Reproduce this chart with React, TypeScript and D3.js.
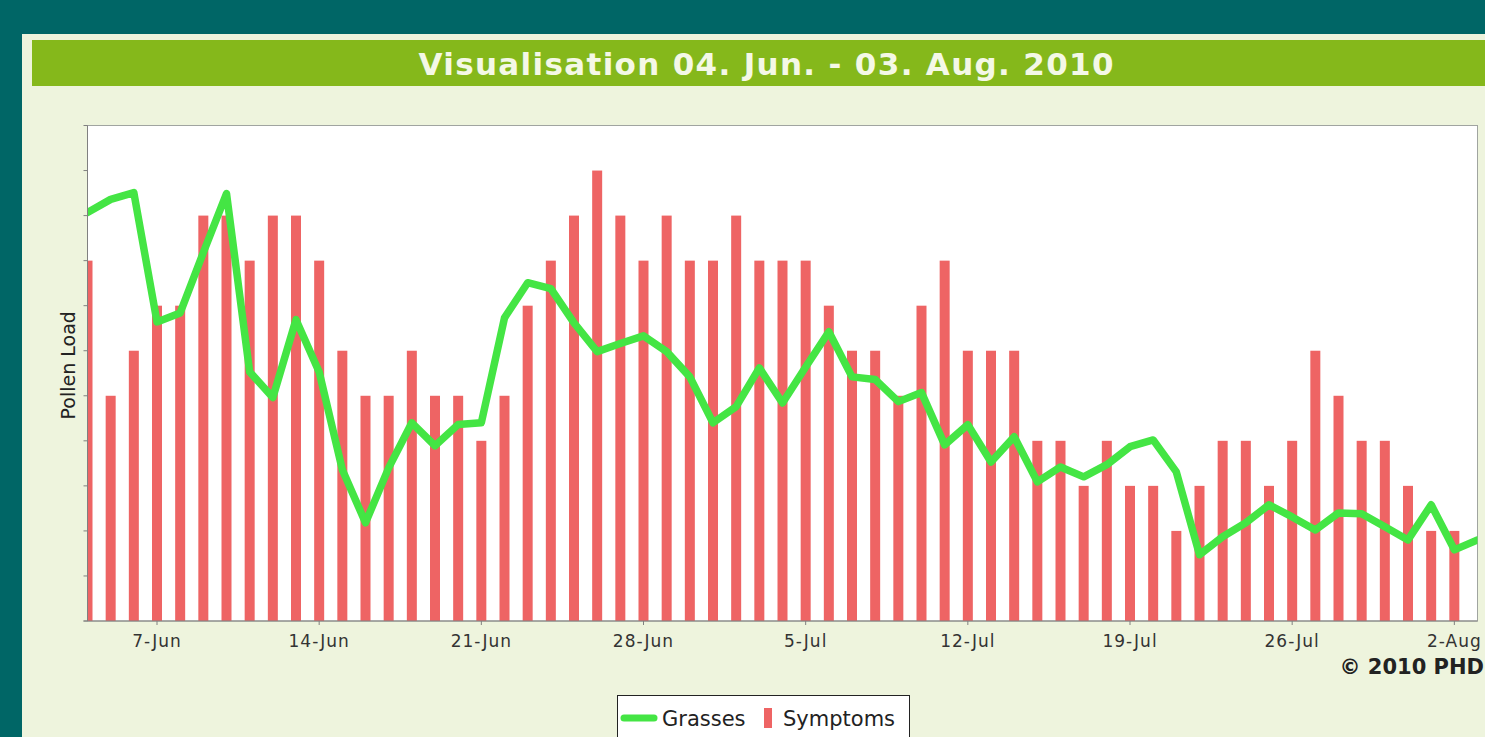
import React from "react";
import * as d3 from "d3";

const START = "2010-06-04";
const END = "2010-08-03";
const symptoms: (number | null)[] = [
  8, 5, 6, 7, 7, 9, 9, 8, 9, 9, 8, 6, 5, 5, 6, 5, 5, 4, 5, 7, 8, 9, 10, 9, 8, 9, 8, 8, 9, 8,
  8, 8, 7, 6, 6, 5, 7, 8, 6, 6, 6, 4, 4, 3, 4, 3, 3, 2, 3, 4, 4, 3, 4, 6, 5, 4, 4, 3, 2, 2, null,
];
const grasses: number[] = [
  9.07, 9.36, 9.51, 6.64, 6.84, 8.18, 9.49, 5.53, 4.96, 6.69, 5.53, 3.36, 2.18, 3.4, 4.4, 3.89,
  4.36, 4.4, 6.73, 7.51, 7.38, 6.62, 5.98, 6.16, 6.33, 5.98, 5.42, 4.4, 4.76, 5.62, 4.84, 5.64,
  6.42, 5.42, 5.36, 4.87, 5.07, 3.91, 4.36, 3.53, 4.09, 3.09, 3.42, 3.2, 3.47, 3.87, 4.02, 3.31,
  1.47, 1.87, 2.18, 2.58, 2.31, 2.02, 2.4, 2.38, 2.09, 1.8, 2.58, 1.58, 1.8,
];
const yTicks = [0, 1, 2, 3, 4, 5, 6, 7, 8, 9, 10, 11];
const titleText = "Visualisation 04. Jun. - 03. Aug. 2010";
const yLabel = "Pollen Load";
const copyright = "© 2010 PHD";
const seriesNames = ["Grasses", "Symptoms"];

const W = 1485;
const H = 737;
const plot = { left: 87.5, top: 125.5, right: 1477.5, bottom: 621 };

export default function App() {
  const parse = d3.timeParse("%Y-%m-%d");
  const start = parse(START) as Date;
  const end = parse(END) as Date;
  const dates = d3.timeDays(start, d3.timeDay.offset(end, 1));
  const x = d3.scaleTime().domain([start, end]).range([plot.left, plot.right]);
  const y = d3.scaleLinear().domain([0, 11]).range([plot.bottom, plot.top]);
  const xTicks = d3.timeDays(d3.timeDay.offset(start, 3), d3.timeDay.offset(end, 1), 7);
  const fmt = d3.timeFormat("%-d-%b");
  const line = d3
    .line<number>()
    .x((_, i) => x(dates[i]))
    .y((v) => y(v))
    .curve(d3.curveLinear);
  const barW = 10;
  const font = "'DejaVu Sans', Verdana, sans-serif";

  return (
    <svg
      width={W}
      height={H}
      style={{ position: "absolute", left: 0, top: 0, display: "block" }}
    >
      <defs>
        <clipPath id="plotClip">
          <rect x={plot.left} y={plot.top} width={plot.right - plot.left} height={plot.bottom - plot.top} />
        </clipPath>
      </defs>
      <rect x={0} y={0} width={W} height={H} fill="#006666" />
      <rect x={22} y={34} width={W} height={H} fill="#eef4dd" />
      <rect x={32} y={40} width={W} height={46} fill="#85b81b" />
      <text
        x={766}
        y={75}
        textAnchor="middle"
        fill="#f4f8e6"
        fontFamily={font}
        fontWeight="bold"
        fontSize={31}
        textLength={695}
        lengthAdjust="spacing"
      >
        {titleText}
      </text>

      <rect
        x={plot.left}
        y={plot.top}
        width={plot.right - plot.left}
        height={plot.bottom - plot.top}
        fill="#ffffff"
        stroke="#a0a4a0"
        strokeWidth={1}
      />

      <g clipPath="url(#plotClip)">
        {symptoms.map((v, i) =>
          v == null ? null : (
            <rect
              key={i}
              x={x(dates[i]) - barW / 2}
              y={y(v)}
              width={barW}
              height={y(0) - y(v)}
              fill="#ee6464"
            />
          )
        )}
        <path
          d={line(grasses) || ""}
          fill="none"
          stroke="#44e544"
          strokeWidth={7.5}
          strokeLinejoin="round"
          strokeLinecap="round"
        />
      </g>

      {/* y axis */}
      <line x1={plot.left} x2={plot.left} y1={plot.top} y2={plot.bottom} stroke="#808080" />
      {yTicks.map((t) => (
        <line key={t} x1={plot.left - 4} x2={plot.left} y1={y(t)} y2={y(t)} stroke="#808080" />
      ))}
      <text
        transform={`translate(75,${(plot.top + plot.bottom) / 2 - 8}) rotate(-90)`}
        textAnchor="middle"
        fontFamily={font}
        fontSize={19}
        fill="#222"
      >
        {yLabel}
      </text>

      {/* x axis */}
      <line x1={plot.left - 4} x2={plot.right} y1={plot.bottom} y2={plot.bottom} stroke="#808080" />
      {xTicks.map((d, i) => (
        <g key={i}>
          <line x1={x(d)} x2={x(d)} y1={plot.bottom} y2={plot.bottom + 4} stroke="#808080" />
          <text
            x={x(d)}
            y={plot.bottom + 26}
            textAnchor="middle"
            fontFamily={font}
            fontSize={17}
            letterSpacing={1}
            fill="#333"
          >
            {fmt(d)}
          </text>
        </g>
      ))}

      <text x={1484} y={674} textAnchor="end" fontFamily={font} fontWeight="bold" fontSize={21} fill="#222">
        {copyright}
      </text>

      {/* legend */}
      <rect x={617.5} y={695.5} width={292} height={50} fill="#ffffff" stroke="#222" strokeWidth={1} />
      <line x1={624} x2={654} y1={718} y2={718} stroke="#44e544" strokeWidth={7} strokeLinecap="round" />
      <text x={662} y={726} fontFamily={font} fontSize={21} fill="#222">
        {seriesNames[0]}
      </text>
      <rect x={764} y={708} width={8} height={20} fill="#ee6464" />
      <text x={783} y={726} fontFamily={font} fontSize={21} fill="#222">
        {seriesNames[1]}
      </text>
    </svg>
  );
}
